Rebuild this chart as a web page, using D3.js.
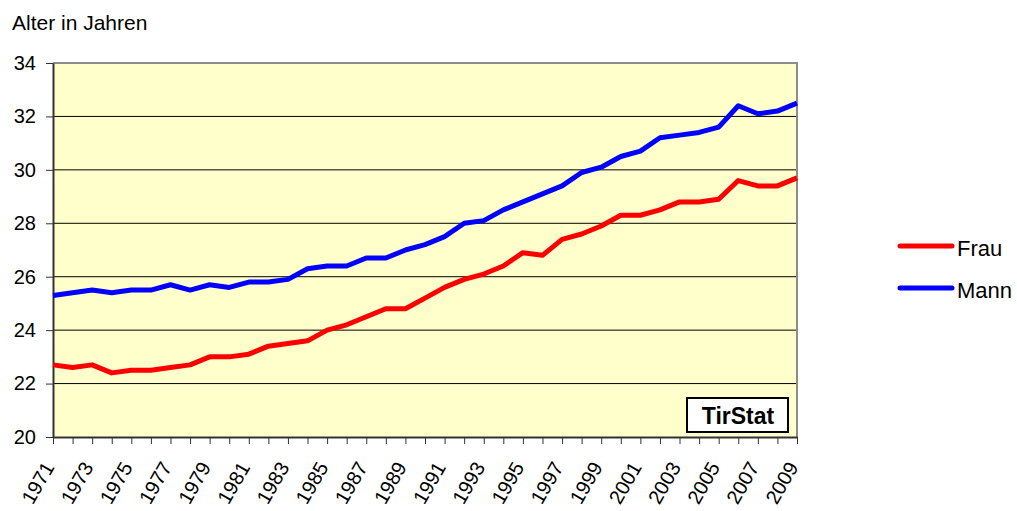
<!DOCTYPE html>
<html>
<head>
<meta charset="utf-8">
<script src="https://cdn.jsdelivr.net/npm/d3@7"></script>
<style>
	body { margin: 0; background: #fff; }
	text { font-family: "Liberation Sans", Arial, sans-serif; fill: #000; }
</style>
</head>
<body>
<div id="chart"></div>
<script>
var years = [1971,1972,1973,1974,1975,1976,1977,1978,1979,1980,
	1981,1982,1983,1984,1985,1986,1987,1988,1989,1990,
	1991,1992,1993,1994,1995,1996,1997,1998,1999,2000,
	2001,2002,2003,2004,2005,2006,2007,2008,2009]

var frau = [22.7,22.6,22.7,22.4,22.5,22.5,22.6,22.7,23.0,23.0,
	23.1,23.4,23.5,23.6,24.0,24.2,24.5,24.8,24.8,25.2,
	25.6,25.9,26.1,26.4,26.9,26.8,27.4,27.6,27.9,28.3,
	28.3,28.5,28.8,28.8,28.9,29.6,29.4,29.4,29.7]

var mann = [25.3,25.4,25.5,25.4,25.5,25.5,25.7,25.5,25.7,25.6,
	25.8,25.8,25.9,26.3,26.4,26.4,26.7,26.7,27.0,27.2,
	27.5,28.0,28.1,28.5,28.8,29.1,29.4,29.9,30.1,30.5,
	30.7,31.2,31.3,31.4,31.6,32.4,32.1,32.2,32.5]

var yTicks = [20,22,24,26,28,30,32,34]
var xLabels = years.filter(function(d){ return d % 2 == 1 })
var seriesNames = ["Frau","Mann"]
var seriesColors = ["#ff0000","#0000ff"]

var width = 1017, height = 511
// plot area edges (window.top is taken, so no plain "top")
var plotLeft = 53, plotRight = 797, plotTop = 63, plotBottom = 437

var svg = d3.select("#chart")
	.append("svg")
	.attr("width", width)
	.attr("height", height)

var x = d3.scaleLinear().domain([1971, 2009]).range([plotLeft, plotRight])
var y = d3.scaleLinear().domain([20, 34]).range([plotBottom, plotTop])

// plot background
svg.append("rect")
	.attr("x", plotLeft).attr("y", plotTop)
	.attr("width", plotRight - plotLeft).attr("height", plotBottom - plotTop)
	.attr("fill", "#ffffcc")

// gridlines
svg.selectAll(".grid")
	.data(yTicks.filter(function(d){ return d > 20 && d < 34 }))
	.enter()
	.append("line")
	.attr("x1", plotLeft).attr("x2", plotRight)
	.attr("y1", function(d){ return y(d) })
	.attr("y2", function(d){ return y(d) })
	.attr("stroke", "#000")
	.attr("stroke-width", 1)

// top and right border
svg.append("path")
	.attr("d", "M" + plotLeft + "," + plotTop + "H" + plotRight + "V" + plotBottom)
	.attr("fill", "none")
	.attr("stroke", "#8c8c8c")
	.attr("stroke-width", 2)

// y axis
var yAxis = svg.append("g")
	.attr("transform", "translate(" + plotLeft + ",0)")
	.call(d3.axisLeft(y).tickValues(yTicks).tickSize(7).tickSizeOuter(0).tickPadding(10))
yAxis.select(".domain").attr("stroke", "#333").attr("stroke-width", 2)
yAxis.selectAll(".tick line").attr("stroke", "#333")
yAxis.selectAll("text")
	.style("font-size", "20px")
	.attr("fill", "#000")
	.attr("font-family", "Liberation Sans, Arial, sans-serif")

// x axis
var xAxis = svg.append("g")
	.attr("transform", "translate(0," + plotBottom + ")")
	.call(d3.axisBottom(x).tickValues(years).tickSize(7).tickSizeOuter(0).tickFormat(""))
xAxis.select(".domain").attr("stroke", "#333").attr("stroke-width", 2)
xAxis.selectAll(".tick line").attr("stroke", "#333")

svg.selectAll(".xlabel")
	.data(xLabels)
	.enter()
	.append("text")
	.attr("class", "xlabel")
	.attr("text-anchor", "end")
	.attr("transform", function(d){ return "translate(" + (x(d) + 2) + "," + 467 + ") rotate(-60)" })
	.style("font-size", "20px")
	.text(function(d){ return d })

// lines
var line = d3.line()
	.x(function(d, i){ return x(years[i]) })
	.y(function(d){ return y(d) })

;[frau, mann].forEach(function(values, i){
	svg.append("path")
		.datum(values)
		.attr("d", line)
		.attr("fill", "none")
		.attr("stroke", seriesColors[i])
		.attr("stroke-width", 5)
		.attr("stroke-linejoin", "round")
})

// title
svg.append("text")
	.attr("x", 12).attr("y", 30)
	.style("font-size", "21px")
	.text("Alter in Jahren")

// legend
var legend = svg.selectAll(".legend")
	.data(seriesNames)
	.enter()
	.append("g")
	.attr("transform", function(d, i){ return "translate(900," + (246 + i * 42) + ")" })

legend.append("line")
	.attr("x1", 0).attr("x2", 52)
	.attr("stroke", function(d, i){ return seriesColors[i] })
	.attr("stroke-width", 5)
	.attr("stroke-linecap", "round")

legend.append("text")
	.attr("x", 57).attr("y", 10)
	.style("font-size", "22px")
	.text(function(d){ return d })

// TirStat box
svg.append("rect")
	.attr("x", 687).attr("y", 398)
	.attr("width", 101).attr("height", 34)
	.attr("fill", "#fff")
	.attr("stroke", "#000")
	.attr("stroke-width", 2)

svg.append("text")
	.attr("x", 738).attr("y", 424)
	.attr("text-anchor", "middle")
	.style("font-size", "23px")
	.style("font-weight", "bold")
	.text("TirStat")
</script>
</body>
</html>
